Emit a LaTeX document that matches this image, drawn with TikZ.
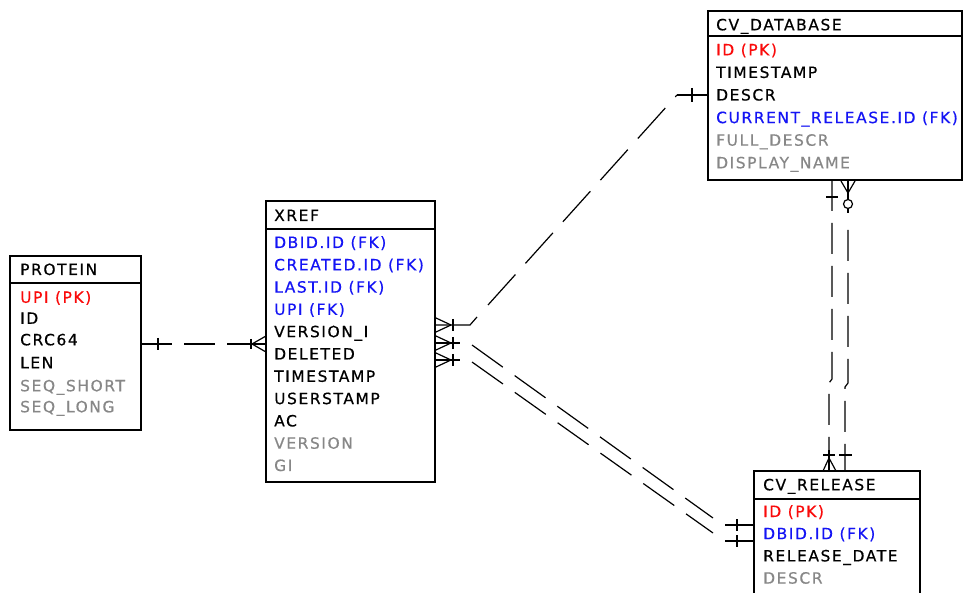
\documentclass[tikz,border=0pt]{standalone}
\usepackage{fontspec}
\setmainfont{DejaVu Sans}[LetterSpace=10, FakeBold=0.5]
\definecolor{pkred}{RGB}{250,10,10}
\definecolor{fkblue}{RGB}{20,20,245}
\definecolor{optgray}{RGB}{135,135,135}
\newcommand{\fldfont}{\fontsize{15.5pt}{17pt}\selectfont}
\tikzset{
  tbl/.style={draw, line width=1.4pt, inner sep=0pt, outer sep=0pt, anchor=north west},
  hdr/.style={line width=1.4pt},
  fld/.style={anchor=base west, inner sep=0pt, font=\fldfont, text=black},
  pk/.style={fld, text=pkred},
  fk/.style={fld, text=fkblue},
  opt/.style={fld, text=optgray},
  conn/.style={line width=1.2pt, line cap=butt},
  dsh/.style={conn, dash pattern=on 31pt off 12pt},
  dshdb/.style={conn, dash pattern=on 41pt off 15pt},
  dshrel/.style={conn, dash pattern=on 38pt off 14.5pt},
}
\begin{document}
\begin{tikzpicture}[x=1pt,y=-1pt]
\useasboundingbox (0,0) rectangle (964,593);
\clip (0,0) rectangle (964,593);
\fill[white] (0,0) rectangle (964,593);

% ---------- PROTEIN ----------
\node[tbl, minimum width=131pt, minimum height=174pt] (protein) at (10,256) {};
\draw[hdr] ([yshift=-27pt]protein.north west) -- ([yshift=-27pt]protein.north east);
\node[fld] (protein-t) at (20,275) {PROTEIN};
\node[pk]  (protein-1) at (20,302.8) {UPI (PK)};
\node[fld] (protein-2) at (20,323.8) {ID};
\node[fld] (protein-3) at (20,345.3) {CRC64};
\node[fld] (protein-4) at (20,368.3) {LEN};
\node[opt] (protein-5) at (20,391.3) {SEQ\_SHORT};
\node[opt] (protein-6) at (20,412.3) {SEQ\_LONG};

% ---------- XREF ----------
\node[tbl, minimum width=169pt, minimum height=281pt] (xref) at (266,201) {};
\draw[hdr] ([yshift=-28pt]xref.north west) -- ([yshift=-28pt]xref.north east);
\node[fld] (xref-t) at (274,221) {XREF};
\node[fk]  (xref-1) at (274,248.0) {DBID.ID (FK)};
\node[fk]  (xref-2) at (274,270.3) {CREATED.ID (FK)};
\node[fk]  (xref-3) at (274,292.6) {LAST.ID (FK)};
\node[fk]  (xref-4) at (274,314.9) {UPI (FK)};
\node[fld] (xref-5) at (274,337.2) {VERSION\_I};
\node[fld] (xref-6) at (274,359.5) {DELETED};
\node[fld] (xref-7) at (274,381.8) {TIMESTAMP};
\node[fld] (xref-8) at (274,404.1) {USERSTAMP};
\node[fld] (xref-9) at (274,426.4) {AC};
\node[opt] (xref-10) at (274,448.7) {VERSION};
\node[opt] (xref-11) at (274,471.0) {GI};

% ---------- CV_DATABASE ----------
\node[tbl, minimum width=254pt, minimum height=169pt] (cvdb) at (708,11) {};
\draw[hdr] ([yshift=-25pt]cvdb.north west) -- ([yshift=-25pt]cvdb.north east);
\node[fld] (cvdb-t) at (716,30.3) {CV\_DATABASE};
\node[pk]  (cvdb-1) at (716,55.3) {ID (PK)};
\node[fld] (cvdb-2) at (716,77.9) {TIMESTAMP};
\node[fld] (cvdb-3) at (716,100.5) {DESCR};
\node[fk]  (cvdb-4) at (716,123.1) {CURRENT\_RELEASE.ID (FK)};
\node[opt] (cvdb-5) at (716,145.7) {FULL\_DESCR};
\node[opt] (cvdb-6) at (716,168.3) {DISPLAY\_NAME};

% ---------- CV_RELEASE ----------
\node[tbl, minimum width=166pt, minimum height=140pt] (cvrel) at (754,471) {};
\draw[hdr] ([yshift=-28pt]cvrel.north west) -- ([yshift=-28pt]cvrel.north east);
\node[fld] (cvrel-t) at (763,490.3) {CV\_RELEASE};
\node[pk]  (cvrel-1) at (763,517.0) {ID (PK)};
\node[fk]  (cvrel-2) at (763,539.2) {DBID.ID (FK)};
\node[fld] (cvrel-3) at (763,561.4) {RELEASE\_DATE};
\node[opt] (cvrel-4) at (763,583.6) {DESCR};

% ---------- connector coordinates ----------
\coordinate (pA) at (protein.east |- 0,344);
\coordinate (pB) at (xref.west |- 0,344);
\coordinate (xA) at (xref.east |- 0,325);
\coordinate (xB) at (xref.east |- 0,343);
\coordinate (xC) at (xref.east |- 0,360);
\coordinate (dA) at (cvdb.west |- 0,95);
\coordinate (rA) at (cvrel.west |- 0,525);
\coordinate (rB) at (cvrel.west |- 0,541);
\coordinate (dL) at (832,180);
\coordinate (dR) at (848,180);
\coordinate (rL) at (829,471);
\coordinate (rR) at (845,471);

% PROTEIN -- XREF
\draw[dsh] (pA) -- (pB);
\draw[conn] (158,338) -- (158,350);
\draw[conn] (251,339) -- (251,349);
\draw[conn] (252,344) -- ([yshift=8pt]pB) (252,344) -- ([yshift=-8pt]pB);
\draw[conn] (251,344) -- (pB);

% XREF crow's feet (three)
\foreach \c in {xA,xB,xC}{
  \draw[conn] ([xshift=16pt]\c) -- ([xshift=1pt,yshift=7pt]\c)
              ([xshift=16pt]\c) -- ([xshift=1pt,yshift=-7pt]\c);
  \draw[conn] ([xshift=18pt,yshift=6pt]\c) -- ([xshift=18pt,yshift=-6pt]\c);
}

% XREF -- CV_DATABASE
\draw[conn] (xA) -- (470,325) -- (477,317);
\draw[dshdb] (488,305) -- (677,95);
\draw[conn] (677,95) -- (dA);
\draw[conn] (692,88) -- (692,102);

% XREF -- CV_RELEASE (two)
\draw[conn] (xB) -- (460,343);
\draw[dshrel] (472,345) -- (713,518);
\draw[conn] (725,525) -- (rA);
\draw[conn] (737,519) -- (737,531);
\draw[conn] (xC) -- (460,360);
\draw[dshrel] (472,362) -- (713,533);
\draw[conn] (725,541) -- (rB);
\draw[conn] (737,535) -- (737,547);

% CV_DATABASE -- CV_RELEASE left line
\draw[dsh] (dL) -- (832,379) -- (829,383) -- (rL);
\draw[conn] (826,197) -- (838,197);
\draw[conn] (823,455) -- (835,455);
\draw[conn] (829,458) -- ([xshift=-6pt]rL) (829,458) -- ([xshift=7pt]rL);
\draw[conn] (829,450) -- (rL);

% CV_DATABASE -- CV_RELEASE right line
\draw[conn] (dR) -- (848,199.5);
\draw[conn] (848,193) -- (841,181) (848,193) -- (855,181);
\draw[conn] (848,204) circle[radius=4.5pt];
\draw[conn] (848,208.5) -- (848,213);
\draw[dsh] (848,230) -- (848,383) -- (845,387) -- (rR);
\draw[conn] (839,455) -- (852,455);
\end{tikzpicture}
\end{document}
